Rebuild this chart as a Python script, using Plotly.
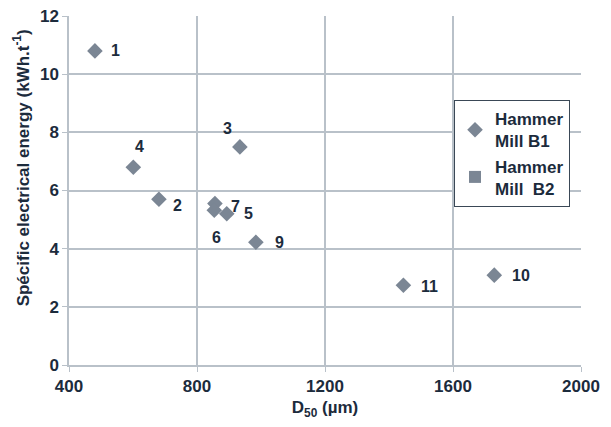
import plotly.graph_objects as go

labels = ["1", "4", "2", "3", "7", "6", "5", "9", "11", "10"]
d50 = [481, 601, 681, 934, 856, 854, 893, 984, 1445, 1729]
energy = [10.8, 6.8, 5.7, 7.5, 5.55, 5.32, 5.2, 4.22, 2.74, 3.09]
# label offsets (pixels) relative to each point
label_dx = [21, 6, 19, -12, 21, 2, 22, 24, 26, 27]
label_dy = [0, -21, 6, -18, 3, 27, 0, 0, 1, 0]

b2_d50 = [None]
b2_energy = [None]

x_ticks = [400, 800, 1200, 1600, 2000]
y_ticks = [0, 2, 4, 6, 8, 10, 12]

x_title = "<b>D<sub>50</sub> (µm)</b>"
y_title = "<b>Spécific electrical energy (kWh.t<sup>-1</sup>)</b>"

text_color = "#1c2b3c"
marker_color = "#7b8694"
grid_color = "#b9c1c9"
font_family = "Liberation Sans, Arial, sans-serif"

fig = go.Figure()
fig.add_trace(go.Scatter(
    x=d50, y=energy, mode="markers",
    name="<b>Hammer<br>Mill B1</b>",
    marker=dict(symbol="diamond", size=12, color=marker_color),
))
fig.add_trace(go.Scatter(
    x=b2_d50, y=b2_energy, mode="markers",
    name="<b>Hammer<br>Mill  B2</b>",
    marker=dict(symbol="square", size=11, color=marker_color),
))

for lab, xv, yv, dx, dy in zip(labels, d50, energy, label_dx, label_dy):
    fig.add_annotation(
        x=xv, y=yv, xref="x", yref="y", text=f"<b>{lab}</b>",
        showarrow=False, xshift=dx, yshift=-dy,
        font=dict(size=16, color=text_color, family=font_family),
    )

# y-axis title (sits a little above the plot centre in the reference)
fig.add_annotation(
    x=-0.092, y=0.566, xref="paper", yref="paper", text=y_title,
    textangle=-90, showarrow=False, xanchor="center", yanchor="middle",
    font=dict(size=17, color=text_color, family=font_family),
)

# page body has an 8px margin, so the figure is 8px smaller than the window
fig.update_layout(
    width=603, height=419,
    margin=dict(l=61, r=30, t=8, b=62),
    paper_bgcolor="white", plot_bgcolor="white",
    font=dict(family=font_family, color=text_color, size=16),
    showlegend=True,
    legend=dict(
        x=0.752, y=0.759, xanchor="left", yanchor="top",
        bgcolor="white", bordercolor="#3a4856", borderwidth=1,
        font=dict(size=17, color=text_color, family=font_family),
        itemsizing="constant", tracegroupgap=4, itemwidth=30,
    ),
)
fig.update_xaxes(
    range=[400, 2000], tickvals=x_ticks,
    ticktext=[f"<b>{v}</b>" for v in x_ticks],
    showgrid=True, gridcolor=grid_color, gridwidth=1.5,
    showline=True, linecolor=grid_color, linewidth=1.5,
    ticks="outside", ticklen=5, tickcolor=grid_color,
    zeroline=False, automargin=False, ticklabeloverflow="allow",
    title=dict(text=x_title, font=dict(size=17), standoff=6),
    tickfont=dict(size=17),
)
fig.update_yaxes(
    range=[0, 12], tickvals=y_ticks,
    ticktext=[f"<b>{v}</b>" for v in y_ticks],
    showgrid=True, gridcolor=grid_color, gridwidth=1.5,
    showline=True, linecolor=grid_color, linewidth=1.5,
    ticks="outside", ticklen=5, tickcolor=grid_color,
    zeroline=False, automargin=False, ticklabeloverflow="allow",
    tickfont=dict(size=17),
)

fig.write_html("out.html")
